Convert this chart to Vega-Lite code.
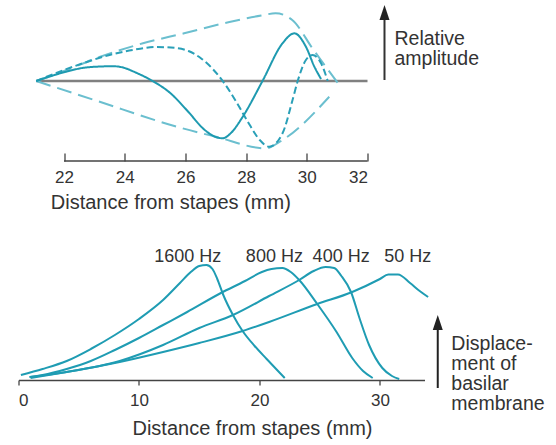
{
  "$schema": "https://vega.github.io/schema/vega-lite/v6.json",
  "padding": {"left": 16.5, "top": 5, "right": 0, "bottom": 0},
  "bounds": "flush",
  "spacing": 89,
  "config": {"view": {"stroke": null}, "font": "Liberation Sans", "text": {"font": "Liberation Sans"}},
  "datasets": {
    "one": [{}],
    "top": [
      {"series": "upper", "x": 21.085, "y": 0}, {"series": "upper", "x": 22.0, "y": 10}, {"series": "upper", "x": 23.17, "y": 24}, {"series": "upper", "x": 24.6, "y": 37.7}, {"series": "upper", "x": 25.96, "y": 47.7}, {"series": "upper", "x": 27.45, "y": 59}, {"series": "upper", "x": 28.5, "y": 65.5}, {"series": "upper", "x": 28.97, "y": 67.7}, {"series": "upper", "x": 29.52, "y": 61}, {"series": "upper", "x": 30.2, "y": 32}, {"series": "upper", "x": 31.02, "y": -2},
      {"series": "lower", "x": 21.085, "y": 0}, {"series": "lower", "x": 23.0, "y": -19}, {"series": "lower", "x": 25.9, "y": -47.3}, {"series": "lower", "x": 27.0, "y": -55.7}, {"series": "lower", "x": 28.64, "y": -67.3}, {"series": "lower", "x": 29.2, "y": -59}, {"series": "lower", "x": 30.74, "y": -15.7},
      {"series": "short", "x": 21.085, "y": 0}, {"series": "short", "x": 22.0, "y": 11}, {"series": "short", "x": 22.62, "y": 17.7}, {"series": "short", "x": 23.5, "y": 26}, {"series": "short", "x": 24.26, "y": 31}, {"series": "short", "x": 25.03, "y": 34}, {"series": "short", "x": 25.7, "y": 33}, {"series": "short", "x": 26.1, "y": 30}, {"series": "short", "x": 26.5, "y": 23}, {"series": "short", "x": 26.9, "y": 12}, {"series": "short", "x": 27.3, "y": -3}, {"series": "short", "x": 27.7, "y": -22}, {"series": "short", "x": 28.1, "y": -43}, {"series": "short", "x": 28.45, "y": -59}, {"series": "short", "x": 28.76, "y": -65.7}, {"series": "short", "x": 29.2, "y": -52.3}, {"series": "short", "x": 29.53, "y": -19}, {"series": "short", "x": 29.7, "y": 0}, {"series": "short", "x": 29.97, "y": 21}, {"series": "short", "x": 30.19, "y": 26}, {"series": "short", "x": 30.47, "y": 17.7}, {"series": "short", "x": 30.69, "y": 0},
      {"series": "solid", "x": 21.085, "y": 0}, {"series": "solid", "x": 22.07, "y": 9.3}, {"series": "solid", "x": 22.6, "y": 13}, {"series": "solid", "x": 23.2, "y": 14.5}, {"series": "solid", "x": 23.6, "y": 14.8}, {"series": "solid", "x": 24.0, "y": 13}, {"series": "solid", "x": 24.3, "y": 9.3}, {"series": "solid", "x": 24.92, "y": 0}, {"series": "solid", "x": 25.5, "y": -12}, {"series": "solid", "x": 26.1, "y": -31}, {"series": "solid", "x": 26.6, "y": -48}, {"series": "solid", "x": 27.0, "y": -56}, {"series": "solid", "x": 27.23, "y": -57.3}, {"series": "solid", "x": 27.5, "y": -52}, {"series": "solid", "x": 27.89, "y": -35.7}, {"series": "solid", "x": 28.54, "y": 0}, {"series": "solid", "x": 29.2, "y": 37.7}, {"series": "solid", "x": 29.59, "y": 47.7}, {"series": "solid", "x": 29.97, "y": 34.3}, {"series": "solid", "x": 30.25, "y": 14.3}, {"series": "solid", "x": 30.47, "y": 2}
    ],
    "bottom": [
      {"freq": "1600 Hz", "x": 0.2, "y": 5}, {"freq": "1600 Hz", "x": 2, "y": 11}, {"freq": "1600 Hz", "x": 4, "y": 19}, {"freq": "1600 Hz", "x": 6, "y": 31}, {"freq": "1600 Hz", "x": 8, "y": 45}, {"freq": "1600 Hz", "x": 10, "y": 61}, {"freq": "1600 Hz", "x": 12, "y": 80}, {"freq": "1600 Hz", "x": 13.4, "y": 97}, {"freq": "1600 Hz", "x": 14.3, "y": 108}, {"freq": "1600 Hz", "x": 15.0, "y": 114}, {"freq": "1600 Hz", "x": 15.6, "y": 115}, {"freq": "1600 Hz", "x": 16.1, "y": 111}, {"freq": "1600 Hz", "x": 16.5, "y": 101}, {"freq": "1600 Hz", "x": 17.0, "y": 85}, {"freq": "1600 Hz", "x": 17.8, "y": 65}, {"freq": "1600 Hz", "x": 18.6, "y": 49}, {"freq": "1600 Hz", "x": 19.6, "y": 34}, {"freq": "1600 Hz", "x": 20.6, "y": 21}, {"freq": "1600 Hz", "x": 21.7, "y": 7}, {"freq": "1600 Hz", "x": 22.1, "y": 2},
      {"freq": "800 Hz", "x": 0.9, "y": 3}, {"freq": "800 Hz", "x": 2, "y": 5}, {"freq": "800 Hz", "x": 4, "y": 11}, {"freq": "800 Hz", "x": 6, "y": 19}, {"freq": "800 Hz", "x": 8, "y": 30}, {"freq": "800 Hz", "x": 10, "y": 42}, {"freq": "800 Hz", "x": 12, "y": 55}, {"freq": "800 Hz", "x": 14, "y": 68}, {"freq": "800 Hz", "x": 16.8, "y": 87}, {"freq": "800 Hz", "x": 18.8, "y": 99}, {"freq": "800 Hz", "x": 20.2, "y": 108}, {"freq": "800 Hz", "x": 21.0, "y": 111}, {"freq": "800 Hz", "x": 21.9, "y": 112}, {"freq": "800 Hz", "x": 22.6, "y": 108}, {"freq": "800 Hz", "x": 23.3, "y": 100}, {"freq": "800 Hz", "x": 24.8, "y": 76}, {"freq": "800 Hz", "x": 26.4, "y": 48}, {"freq": "800 Hz", "x": 27.7, "y": 22}, {"freq": "800 Hz", "x": 28.6, "y": 9}, {"freq": "800 Hz", "x": 29.4, "y": 2},
      {"freq": "400 Hz", "x": 1.0, "y": 3}, {"freq": "400 Hz", "x": 4, "y": 8}, {"freq": "400 Hz", "x": 8.4, "y": 19}, {"freq": "400 Hz", "x": 12, "y": 35}, {"freq": "400 Hz", "x": 15, "y": 52}, {"freq": "400 Hz", "x": 17.8, "y": 65}, {"freq": "400 Hz", "x": 20.8, "y": 84}, {"freq": "400 Hz", "x": 23.3, "y": 100}, {"freq": "400 Hz", "x": 24.5, "y": 109}, {"freq": "400 Hz", "x": 25.5, "y": 113}, {"freq": "400 Hz", "x": 26.2, "y": 112}, {"freq": "400 Hz", "x": 26.8, "y": 104}, {"freq": "400 Hz", "x": 27.6, "y": 88}, {"freq": "400 Hz", "x": 28.3, "y": 62}, {"freq": "400 Hz", "x": 29.1, "y": 35}, {"freq": "400 Hz", "x": 30.2, "y": 12}, {"freq": "400 Hz", "x": 31.0, "y": 4}, {"freq": "400 Hz", "x": 31.6, "y": 1},
      {"freq": "50 Hz", "x": 1.0, "y": 2}, {"freq": "50 Hz", "x": 4, "y": 8}, {"freq": "50 Hz", "x": 8.4, "y": 18}, {"freq": "50 Hz", "x": 12, "y": 28}, {"freq": "50 Hz", "x": 15, "y": 37}, {"freq": "50 Hz", "x": 18.6, "y": 49}, {"freq": "50 Hz", "x": 20.8, "y": 58}, {"freq": "50 Hz", "x": 24.8, "y": 76}, {"freq": "50 Hz", "x": 27.7, "y": 88}, {"freq": "50 Hz", "x": 30.0, "y": 101}, {"freq": "50 Hz", "x": 30.7, "y": 105.5}, {"freq": "50 Hz", "x": 31.5, "y": 105.5}, {"freq": "50 Hz", "x": 32.5, "y": 97}, {"freq": "50 Hz", "x": 33.3, "y": 89}, {"freq": "50 Hz", "x": 34.0, "y": 83}
    ],
    "labels": [
      {"freq": "1600 Hz", "x": 14.05}, {"freq": "800 Hz", "x": 21.24}, {"freq": "400 Hz", "x": 26.78}, {"freq": "50 Hz", "x": 32.31}
    ]
  },
  "vconcat": [
    {
      "width": 349,
      "height": 156,
      "encoding": {
        "x": {"type": "quantitative", "scale": {"domain": [20.5, 32], "nice": false, "zero": false},
          "axis": {"values": [22, 24, 26, 28, 30, 32], "domain": false, "grid": false, "tickSize": -8, "tickColor": "#444", "tickWidth": 1.3,
            "labelFontSize": 17, "labelColor": "#333", "labelFont": "Liberation Sans", "labelBaseline": "alphabetic", "labelPadding": 29.7,
            "title": "Distance from stapes (mm)", "titleFont": "Liberation Sans", "titleFontSize": 20, "titleFontWeight": "normal", "titleColor": "#333",
            "titleX": 151.8, "titleY": 47, "titleBaseline": "alphabetic", "titleAlign": "center"}},
        "y": {"type": "quantitative", "scale": {"domain": [-80, 76], "nice": false, "zero": false}, "axis": null}
      },
      "layer": [
        {
          "data": {"name": "one"},
          "mark": {"type": "rule", "color": "#808080", "strokeWidth": 2.5},
          "encoding": {
            "x": {"datum": 21.085},
            "x2": {"datum": 32},
            "y": {"datum": 0}
          }
        },
        {
          "data": {"name": "one"},
          "mark": {"type": "rule", "color": "#444", "strokeWidth": 1.3},
          "encoding": {
            "x": {"datum": 22},
            "x2": {"datum": 32},
            "y": {"datum": -80}
          }
        },
        {
          "data": {"name": "top"},
          "mark": {"type": "line", "interpolate": "monotone", "strokeWidth": 2},
          "encoding": {
            "x": {"field": "x"},
            "y": {"field": "y"},
            "color": {"field": "series", "type": "nominal", "legend": null,
              "scale": {"domain": ["upper", "lower", "short", "solid"], "range": ["#6bbfcf", "#6bbfcf", "#2aa0b8", "#1e9ab0"]}},
            "strokeDash": {"field": "series", "type": "nominal", "legend": null,
              "scale": {"domain": ["upper", "lower", "short", "solid"], "range": [[15, 7], [15, 7], [7, 3.5], [1, 0]]}}
          }
        },
        {
          "data": {"name": "one"},
          "mark": {"type": "rule", "color": "#333", "strokeWidth": 2},
          "encoding": {
            "x": {"datum": 32.56},
            "y": {"datum": 1},
            "y2": {"datum": 68}
          }
        },
        {
          "data": {"name": "one"},
          "mark": {"type": "point", "shape": "M0,-0.75L0.5,0.75L-0.5,0.75Z", "filled": true, "size": 400, "color": "#222", "opacity": 1},
          "encoding": {
            "x": {"datum": 32.56},
            "y": {"datum": 68.5}
          }
        },
        {
          "data": {"name": "one"},
          "mark": {"type": "text", "align": "left", "baseline": "alphabetic", "fontSize": 19.5, "color": "#333", "lineHeight": 20, "font": "Liberation Sans"},
          "encoding": {
            "x": {"datum": 32.89},
            "y": {"datum": 36},
            "text": {"value": ["Relative", "amplitude"]}
          }
        }
      ]
    },
    {
      "width": 406,
      "height": 130,
      "encoding": {
        "x": {"type": "quantitative", "scale": {"domain": [0, 33.7], "nice": false, "zero": false},
          "axis": {"values": [0, 10, 20, 30], "domain": true, "domainColor": "#444", "domainWidth": 1.3, "grid": false, "tickSize": 5, "tickColor": "#444", "tickWidth": 1.3,
            "labelFontSize": 17, "labelColor": "#333", "labelFont": "Liberation Sans", "labelBaseline": "alphabetic", "labelPadding": 20,
            "title": "Distance from stapes (mm)", "titleFont": "Liberation Sans", "titleFontSize": 20, "titleFontWeight": "normal", "titleColor": "#333",
            "titleX": 233.5, "titleY": 54.5, "titleBaseline": "alphabetic", "titleAlign": "center"}},
        "y": {"type": "quantitative", "scale": {"domain": [0, 130], "nice": false, "zero": false}, "axis": null}
      },
      "layer": [
        {
          "data": {"name": "bottom"},
          "mark": {"type": "line", "interpolate": "monotone", "strokeWidth": 2, "color": "#1f9cb3"},
          "encoding": {
            "x": {"field": "x"},
            "y": {"field": "y"},
            "detail": {"field": "freq"}
          }
        },
        {
          "data": {"name": "labels"},
          "mark": {"type": "text", "align": "center", "baseline": "alphabetic", "fontSize": 18, "color": "#333", "font": "Liberation Sans"},
          "encoding": {
            "x": {"field": "x"},
            "y": {"datum": 118.3},
            "text": {"field": "freq"}
          }
        },
        {
          "data": {"name": "one"},
          "mark": {"type": "rule", "color": "#222", "strokeWidth": 2},
          "encoding": {
            "x": {"datum": 34.8},
            "y": {"datum": -8},
            "y2": {"datum": 57}
          }
        },
        {
          "data": {"name": "one"},
          "mark": {"type": "point", "shape": "M0,-0.75L0.5,0.75L-0.5,0.75Z", "filled": true, "size": 400, "color": "#222", "opacity": 1},
          "encoding": {
            "x": {"datum": 34.8},
            "y": {"datum": 57.5}
          }
        },
        {
          "data": {"name": "one"},
          "mark": {"type": "text", "align": "left", "baseline": "alphabetic", "fontSize": 19.5, "color": "#333", "lineHeight": 20, "font": "Liberation Sans"},
          "encoding": {
            "x": {"datum": 35.93},
            "y": {"datum": 30},
            "text": {"value": ["Displace-", "ment of", "basilar", "membrane"]}
          }
        }
      ]
    }
  ]
}
